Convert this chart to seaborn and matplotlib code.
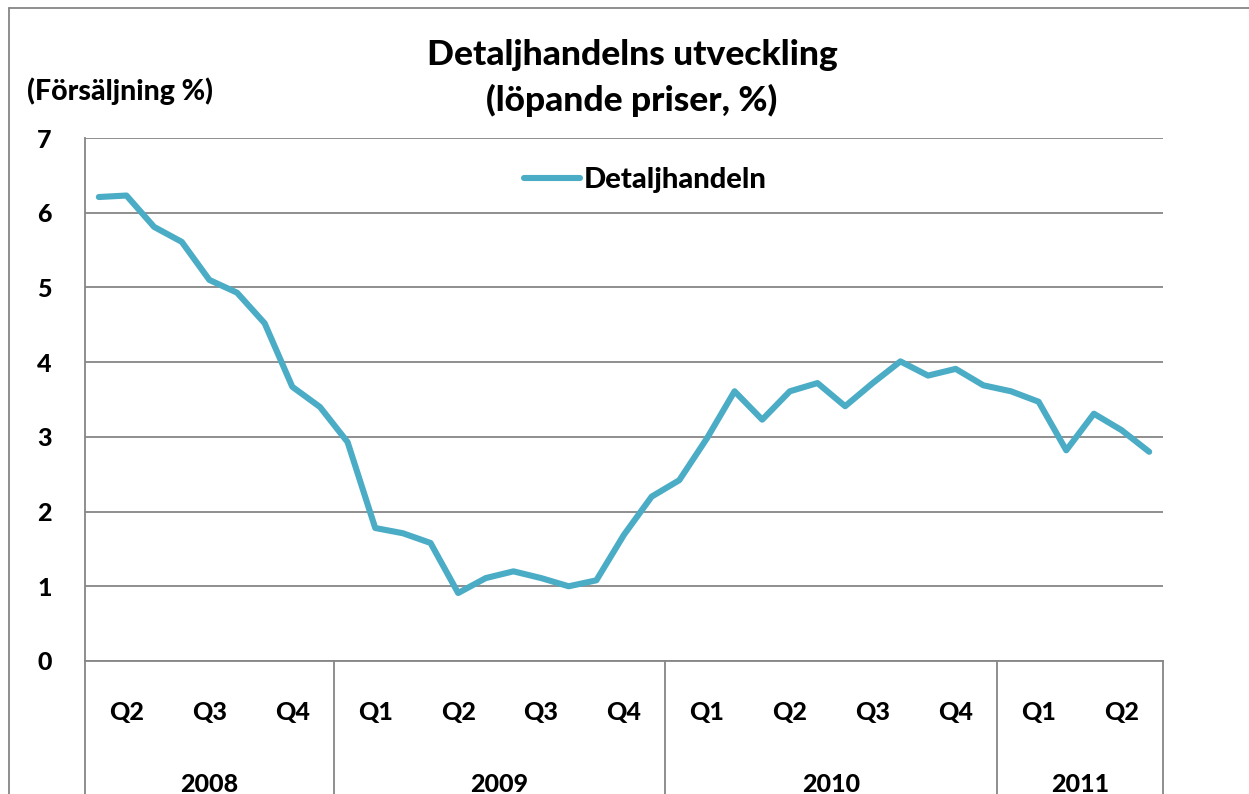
# Detaljhandelns utveckling - monthly line, quarter / year axis
import pandas as pd
import numpy as np
import matplotlib
matplotlib.use("Agg")
import matplotlib.pyplot as plt
import matplotlib.transforms as mtransforms
import seaborn as sns

# ==================================
# DATA (monthly Apr 2008 - Jun 2011)
# ==================================
values = [6.21, 6.23, 5.81, 5.61, 5.10, 4.93, 4.52, 3.67, 3.40, 2.93,
          1.78, 1.71, 1.58, 0.91, 1.11, 1.20, 1.11, 1.00, 1.08, 1.69,
          2.20, 2.42, 2.98, 3.61, 3.23, 3.61, 3.72, 3.41, 3.72, 4.01,
          3.82, 3.91, 3.69, 3.61, 3.47, 2.82, 3.31, 3.09, 2.80]
quarters = ["Q2", "Q3", "Q4", "Q1", "Q2", "Q3", "Q4",
            "Q1", "Q2", "Q3", "Q4", "Q1", "Q2"]
years = ["2008", "2009", "2010", "2011"]
quarters_per_year = [3, 4, 4, 2]
series_name = "Detaljhandeln"

df = pd.DataFrame({"month": np.arange(len(values)), "value": values})

# ==================================
# STYLE
# ==================================
sns.set_theme(style="white")
plt.rcParams['font.family'] = ['Lato', 'DejaVu Sans']
W = "black"
plt.rcParams['font.weight'] = W
plt.rcParams['text.color'] = "black"
plt.rcParams['xtick.color'] = "black"
plt.rcParams['ytick.color'] = "black"
grid_col = "#868686"
line_col = "#4BACC6"

fig = plt.figure(figsize=(12.49, 7.94), dpi=100)
ax = fig.add_axes([85/1249, 1-661/794, (1163-85)/1249, (661-138)/794])

sns.lineplot(data=df, x="month", y="value", ax=ax, color=line_col,
             linewidth=4.4, label=series_name,
             solid_joinstyle="round", solid_capstyle="round")

ax.set_xlim(-0.5, len(values) - 0.5)
ax.set_ylim(0, 7)
ax.set_yticks(range(0, 8))
ax.yaxis.grid(True, color=grid_col, linewidth=1.3)
ax.set_axisbelow(True)
for s in ["top", "right"]:
    ax.spines[s].set_visible(False)
for s in ["left", "bottom"]:
    ax.spines[s].set_color(grid_col)
    ax.spines[s].set_linewidth(1.3)
ax.tick_params(axis="y", length=0, pad=24, labelsize=18, labelcolor="black")
for t in ax.get_yticklabels():
    t.set_fontweight(W)
ax.set_xlabel("")
ax.set_ylabel("")

# quarter labels at the middle month of each quarter
q_pos = [3 * k + 1 for k in range(len(quarters))]
ax.set_xticks(q_pos)
ax.set_xticklabels(quarters, fontsize=18, fontweight=W)
ax.tick_params(axis="x", length=0, pad=29, labelcolor="black")

# year groups with separators
trans = mtransforms.blended_transform_factory(ax.transData, ax.transAxes)
edges = np.cumsum([0] + [q * 3 for q in quarters_per_year]) - 0.5
for e in edges:
    ax.plot([e, e], [0, -0.4], transform=trans, color=grid_col,
            linewidth=1.3, clip_on=False)
for i, yr in enumerate(years):
    ax.text((edges[i] + edges[i + 1]) / 2, -0.215, yr, transform=trans,
            ha="center", va="top", fontsize=18, fontweight=W, color="black")

# legend
leg = ax.legend(loc="upper center", bbox_to_anchor=(0.52, 0.995), frameon=False,
                fontsize=21, handlelength=1.9, handletextpad=0.15)
for t in leg.get_texts():
    t.set_fontweight(W)
    t.set_color("black")

# titles
fig.text(632/1249, 1-55/794, "Detaljhandelns utveckling", ha="center",
         va="center", fontsize=25.5, fontweight=W, color="black")
fig.text(632/1249, 1-100/794, "(löpande priser, %)", ha="center",
         va="center", fontsize=25.5, fontweight=W, color="black")
fig.text(120/1249, 1-91/794, "(Försäljning %)", ha="center", va="center",
         fontsize=20.5, fontweight=W, color="black")

# chart border (continues past the image edge)
fig.add_artist(plt.Line2D([9/1249, 1.0], [1-8/794, 1-8/794],
                          transform=fig.transFigure, color=grid_col, linewidth=1.3))
fig.add_artist(plt.Line2D([9/1249, 9/1249], [0.0, 1-8/794],
                          transform=fig.transFigure, color=grid_col, linewidth=1.3))

plt.savefig("out.png", dpi=100)
